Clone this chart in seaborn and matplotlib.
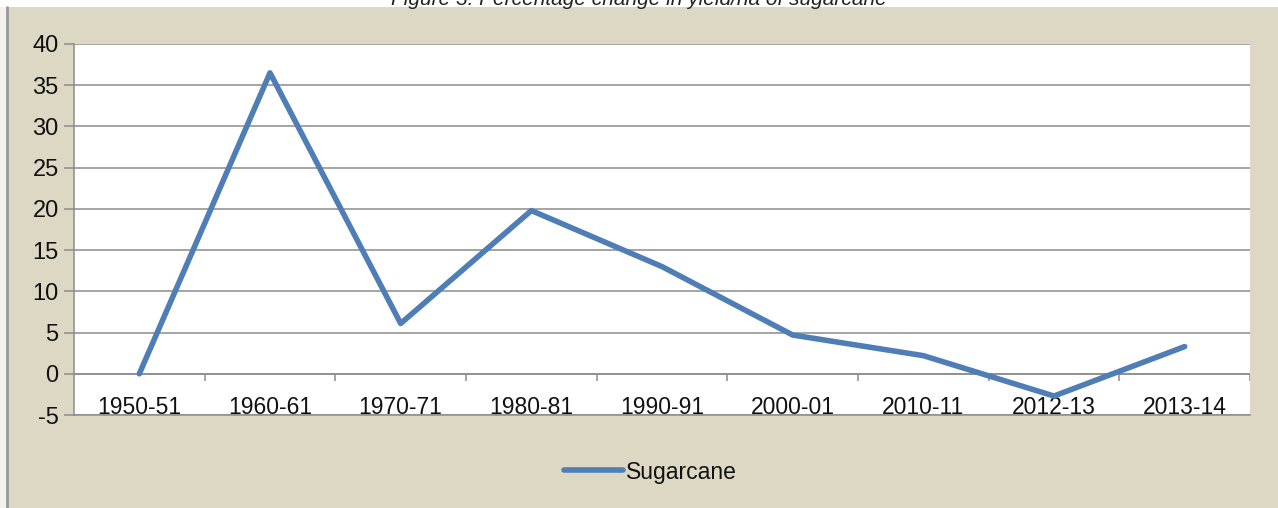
import matplotlib
matplotlib.use("Agg")
import matplotlib.pyplot as plt
import seaborn as sns
import pandas as pd
from matplotlib.patches import Rectangle
from matplotlib.lines import Line2D

# Percentage change in yield per hectare of sugarcane
periods = ["1950-51", "1960-61", "1970-71", "1980-81", "1990-91",
           "2000-01", "2010-11", "2012-13", "2013-14"]
sugarcane = [0.0, 36.5, 6.1, 19.8, 13.0, 4.7, 2.2, -2.7, 3.3]
y_ticks = [-5, 0, 5, 10, 15, 20, 25, 30, 35, 40]

df = pd.DataFrame({"Period": pd.Categorical(periods, categories=periods, ordered=True),
                   "Change": sugarcane})

sns.set_theme(style="white")
plt.rcParams["font.family"] = ["Liberation Sans", "DejaVu Sans"]

BG = "#DDD8C4"
GRID = "#8C8C8C"
BLUE = "#4F7DB6"

W, H = 1278, 508
fig = plt.figure(figsize=(W / 100, H / 100), dpi=100, facecolor=BG)

# white strip along the top and the left frame line
fig.patches.append(Rectangle((0, 1 - 7 / H), 1, 7 / H, transform=fig.transFigure,
                             facecolor="white", edgecolor="none", zorder=0))
fig.patches.append(Rectangle((0, 0), 6 / W, 1 - 7 / H, transform=fig.transFigure,
                             facecolor="#F2F1EC", edgecolor="none", zorder=0))
fig.lines.append(Line2D([6.5 / W, 6.5 / W], [0, 1 - 7 / H], transform=fig.transFigure,
                        color="#9A9A9A", lw=2))

fig.text(0.5, 1 - 5 / H, "Figure 3: Percentage change in yield/ha of sugarcane",
         ha="center", va="baseline", fontsize=15, style="italic", color="#222222")

left, right, top, bottom = 74, 1250, 44, 415
ax = fig.add_axes([left / W, 1 - bottom / H, (right - left) / W, (bottom - top) / H])
ax.set_facecolor("white")

sns.lineplot(data=df, x="Period", y="Change", ax=ax, color=BLUE, lw=4,
             label="Sugarcane", sort=False, zorder=5)

n = len(periods)
ax.set_xlim(-0.5, n - 0.5)
ax.set_ylim(min(y_ticks), max(y_ticks))
ax.set_yticks(y_ticks)
ax.set_yticklabels([str(v) for v in y_ticks])

# horizontal gridlines
for v in y_ticks:
    ax.axhline(v, color=GRID, lw=1.1, zorder=1)

# category axis at zero with tick marks between categories
ax.axhline(0, color=GRID, lw=1.1, zorder=2)
ax.vlines([i + 0.5 for i in range(n)], -0.85, 0, color=GRID, lw=1.1, zorder=2)

for s in ["top", "right"]:
    ax.spines[s].set_visible(False)
ax.spines["left"].set_color(GRID)
ax.spines["bottom"].set_color(GRID)
ax.spines["left"].set_linewidth(1.1)
ax.spines["bottom"].set_linewidth(1.1)

ax.set_xlabel("")
ax.set_ylabel("")
ax.tick_params(axis="x", length=0, pad=-14, labelsize=16.5, labelcolor="#111111")
ax.tick_params(axis="y", length=7, width=1.1, color=GRID, direction="out",
               left=True, pad=4, labelsize=17, labelcolor="#111111")

leg = ax.legend(loc="center", bbox_to_anchor=(650 / W, 1 - 472 / H),
                bbox_transform=fig.transFigure, frameon=False, fontsize=16.5,
                handlelength=2.6, handletextpad=0.1)
for t in leg.get_texts():
    t.set_color("#111111")

fig.savefig("out.png", dpi=100, facecolor=BG)
